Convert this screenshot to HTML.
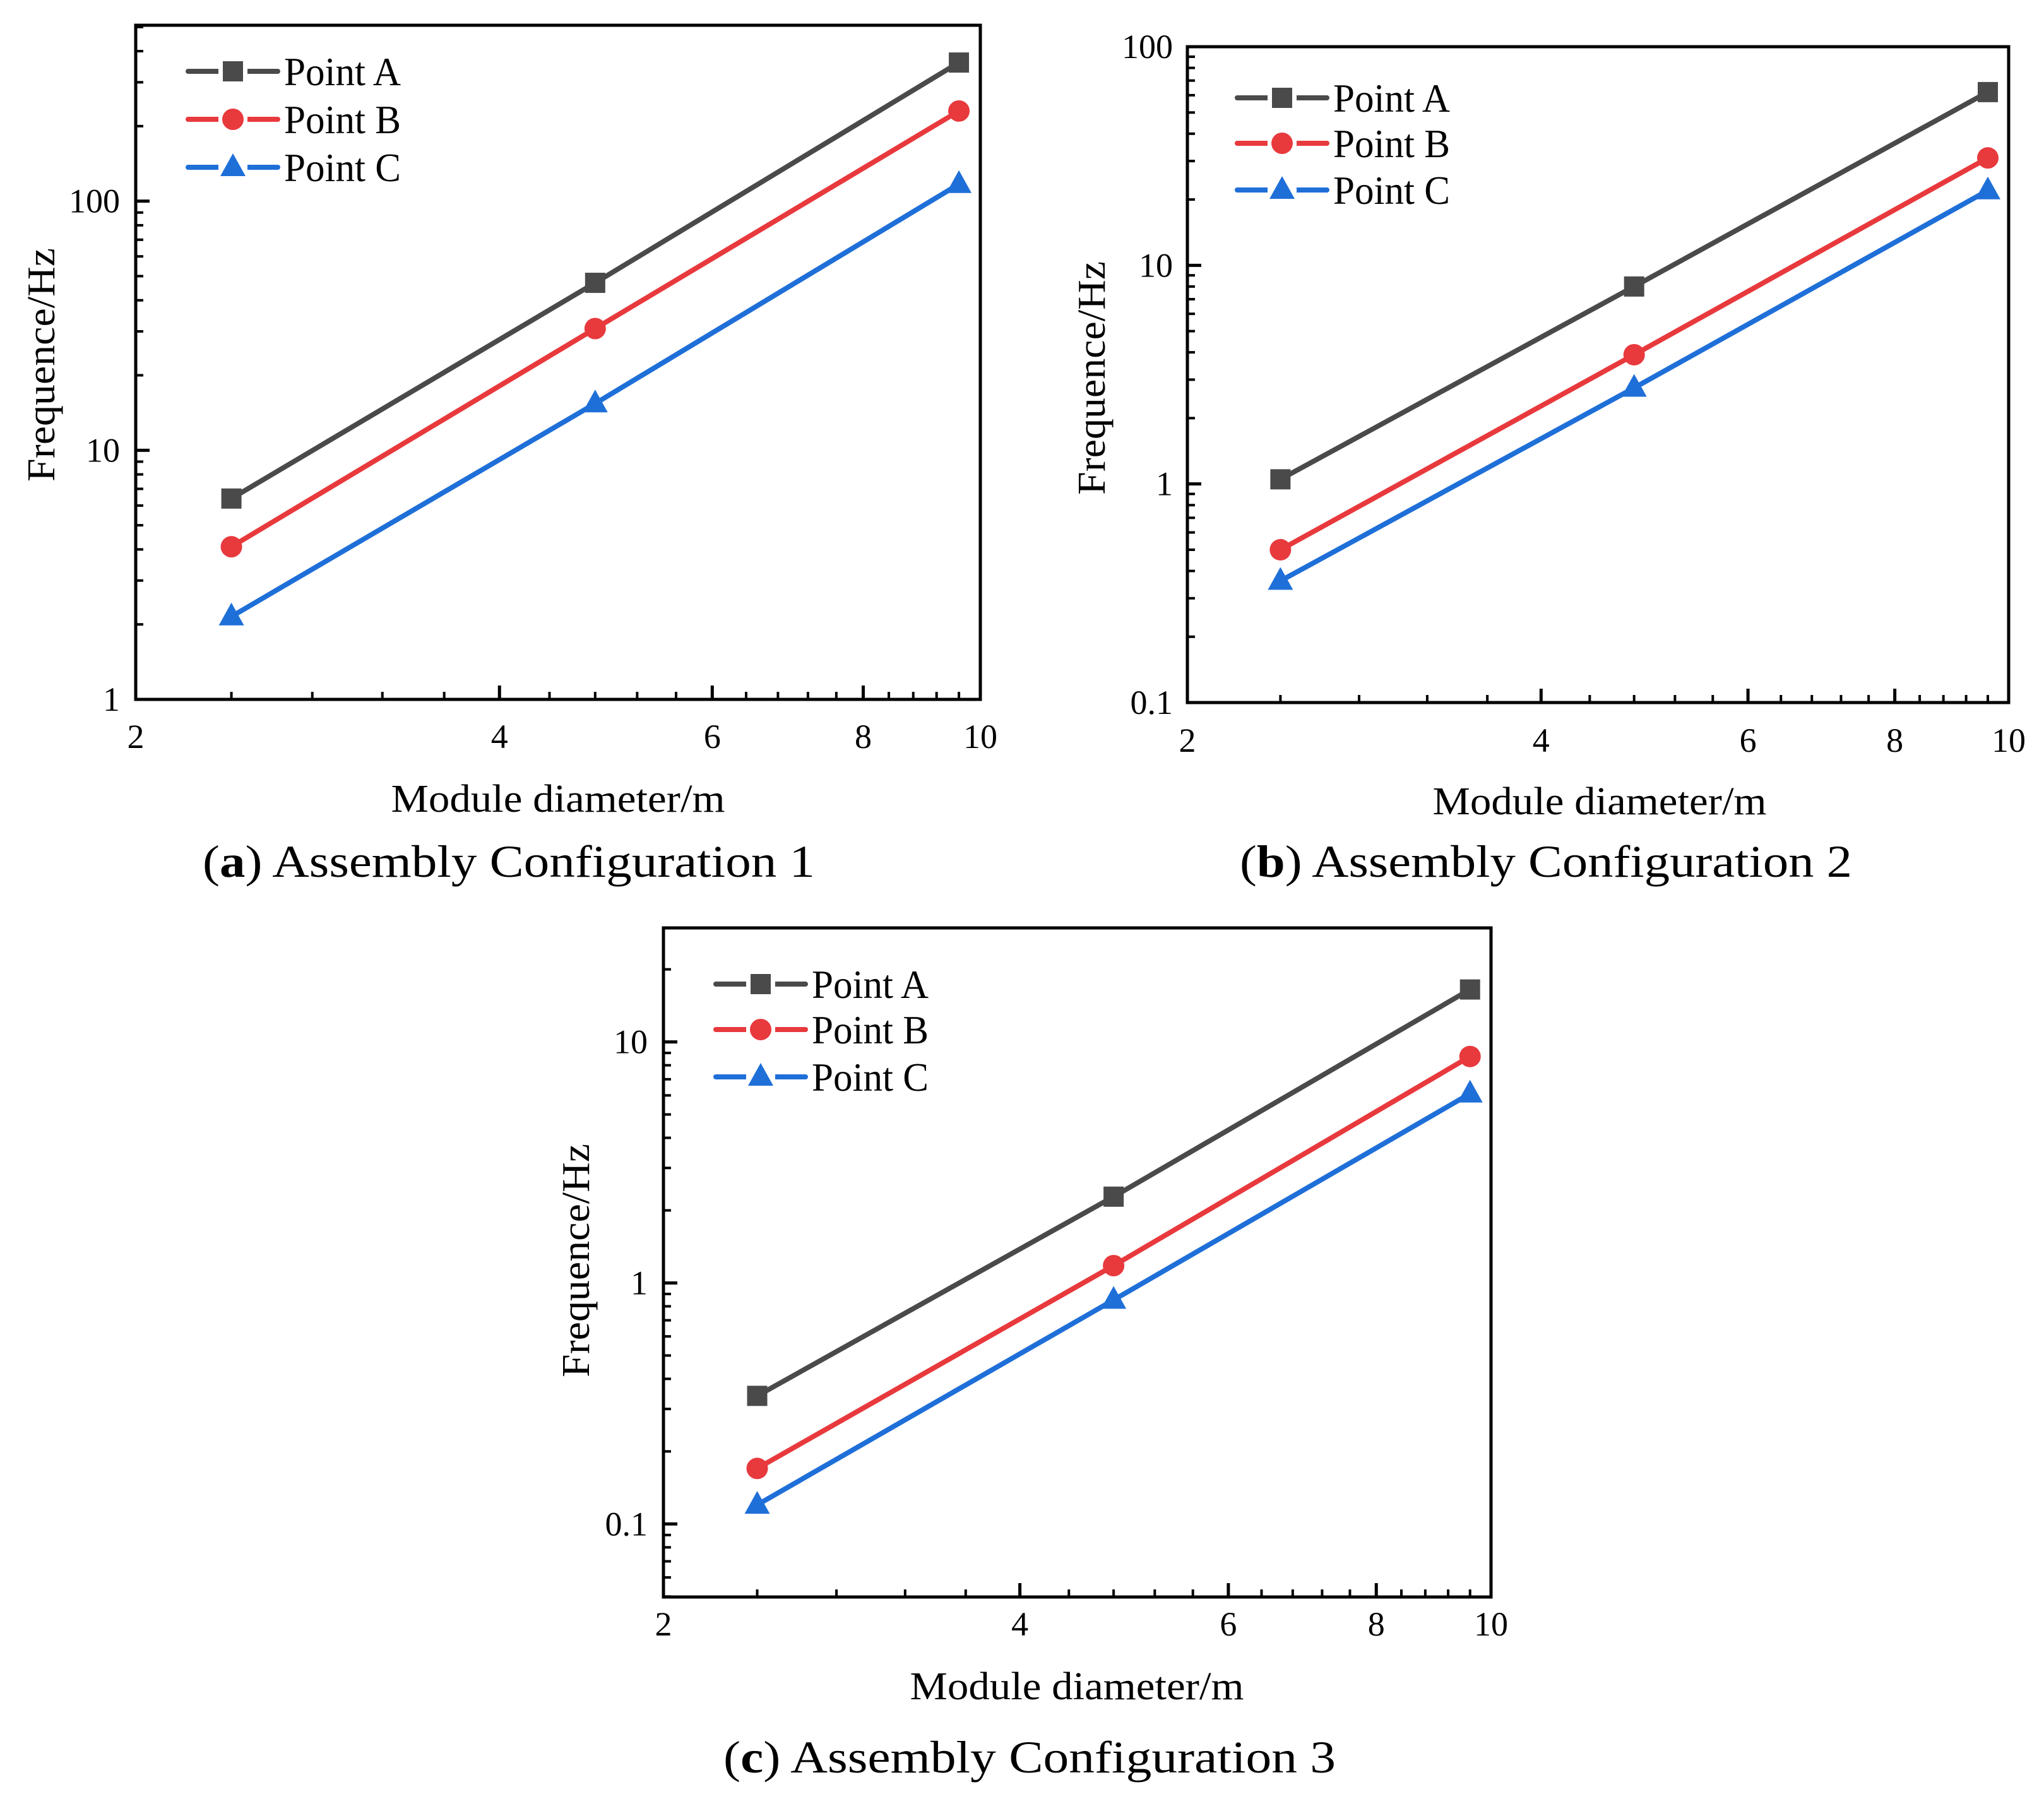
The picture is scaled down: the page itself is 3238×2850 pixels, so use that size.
<!DOCTYPE html>
<html><head><meta charset="utf-8"><style>
html,body{margin:0;padding:0;background:#fff;}
svg{display:block;}
svg text{font-family:"Liberation Serif","DejaVu Serif",serif;}
</style></head><body>
<svg id="fig" width="3238" height="2850" viewBox="0 0 3238 2850" xmlns="http://www.w3.org/2000/svg"></svg>
<script>
const xValues = [2.4, 4.8, 9.6];
const seriesNames = ["Point A", "Point B", "Point C"];
const aValsA = [6.4, 47, 360];
const aValsB = [4.1, 30.8, 230];
const aValsC = [2.15, 15.4, 117];
const bValsA = [1.05, 8.0, 62];
const bValsB = [0.50, 3.9, 31];
const bValsC = [0.36, 2.75, 22];
const cValsA = [0.34, 2.28, 16.5];
const cValsB = [0.17, 1.18, 8.7];
const cValsC = [0.12, 0.85, 6.1];
const xTickLabels = ["2", "4", "6", "8", "10"];
const xMinor = [2.4,2.8,3.2,3.6,4.4,4.8,5.2,5.6,6.4,6.8,7.2,7.6,8.4,8.8,9.2,9.6];
const aYTicks = ["1", "10", "100"];
const bYTicks = ["0.1", "1", "10", "100"];
const cYTicks = ["0.1", "1", "10"];

const NS = "http://www.w3.org/2000/svg";
const svg = document.getElementById("fig");
const colors = ["#4a4a4a", "#e8393d", "#1f6fd8"];
const FF = '"Liberation Serif", serif';
function mk(tag, attrs, parent){const e=document.createElementNS(NS,tag);for(const k in attrs)e.setAttribute(k,attrs[k]);(parent||svg).appendChild(e);return e;}

const panels = [
 {id:"a", L:215, R:1553, T:40, B:1108, yMin:0, yMax:2.706, yt:aYTicks, data:[aValsA,aValsB,aValsC],
  tickY:1167, ytx:190, titleX:884, titleY:1266, yTitleX:66, yTitleY:578, capX:806, capY:1365, capLbl:"a", capNum:"1",
  legX:298, legY:[113,189,265]},
 {id:"b", L:1881, R:3182, T:74, B:1113, yMin:-1, yMax:2, yt:bYTicks, data:[bValsA,bValsB,bValsC],
  tickY:1173, ytx:1858, titleX:2534, titleY:1270, yTitleX:1730, yTitleY:599, capX:2449, capY:1365, capLbl:"b", capNum:"2",
  legX:1960, legY:[155,227,301]},
 {id:"c", L:1051, R:2362, T:1470, B:2530, yMin:-1.303, yMax:1.473, yt:cYTicks, data:[cValsA,cValsB,cValsC],
  tickY:2573, ytx:1026, titleX:1706, titleY:2672, yTitleX:913, yTitleY:1997, capX:1631, capY:2784, capLbl:"c", capNum:"3",
  legX:1134, legY:[1559,1631,1706]}
];

function marker(g, k, x, y, name){
  let m;
  if(k===0) m=mk("rect",{x:x-16,y:y-16,width:32,height:32,fill:colors[0]},g);
  else if(k===1) m=mk("circle",{cx:x,cy:y,r:17,fill:colors[1]},g);
  else m=mk("polygon",{points:`${x-20},${y+14} ${x+20},${y+14} ${x},${y-22}`,fill:colors[2]},g);
  
  
  return m;
}

panels.forEach(p=>{
  const g = mk("g",{});
  
  
  const xs = v => p.L + (Math.log10(v)-Math.log10(2))/(1-Math.log10(2))*(p.R-p.L);
  const ys = v => p.B - (Math.log10(v)-p.yMin)/(p.yMax-p.yMin)*(p.B-p.T);
  xTickLabels.forEach(t=>{
    const v=+t, x=xs(v);
    mk("line",{x1:x,x2:x,y1:p.B,y2:p.B-22,stroke:"#000","stroke-width":5},g);
    const tx=mk("text",{x:x,y:p.tickY+18,"font-size":54,"text-anchor":"middle","font-family":FF},g);
    tx.textContent=t;
    
    
  });
  xMinor.forEach(v=>{const x=xs(v);mk("line",{x1:x,x2:x,y1:p.B,y2:p.B-12,stroke:"#000","stroke-width":4},g);});
  for(let d=Math.floor(p.yMin); d<=Math.ceil(p.yMax); d++){
    for(let m=1;m<10;m++){
      const lv=d+Math.log10(m);
      if(lv<p.yMin-1e-6||lv>p.yMax+1e-6) continue;
      const y=ys(Math.pow(10,lv));
      mk("line",{x1:p.L,x2:p.L+(m===1?22:12),y1:y,y2:y,stroke:"#000","stroke-width":m===1?5:4},g);
    }
  }
  p.yt.forEach(t=>{
    const y=ys(+t);
    const tx=mk("text",{x:p.ytx,y:y+18,"font-size":54,"text-anchor":"end","font-family":FF},g);
    tx.textContent=t;
    
    
  });
  p.data.forEach((vals,k)=>{
    const pts = xValues.map((x,i)=>[xs(x),ys(vals[i])]);
    const pl=mk("polyline",{points:pts.map(q=>q.join(",")).join(" "),fill:"none",stroke:colors[k],"stroke-width":8,"stroke-linecap":"round"},g);
    
    
    pts.forEach(q=>marker(g,k,q[0],q[1],'marker-point-'+['a','b','c'][k]));
  });
  const fr=mk("rect",{x:p.L,y:p.T,width:p.R-p.L,height:p.B-p.T,fill:"none",stroke:"#000","stroke-width":5},g);
  
  
  seriesNames.forEach((n,k)=>{
    const lg=mk("g",{},g);
    
    
    const y=p.legY[k];
    mk("line",{x1:p.legX,x2:p.legX+142,y1:y,y2:y,stroke:colors[k],"stroke-width":8,"stroke-linecap":"round"},lg);
    mk("rect",{x:p.legX+48,y:y-22,width:46,height:44,fill:"#fff"},lg);
    marker(lg,k,p.legX+71,y,'legend-marker');
    const tx=mk("text",{x:p.legX+152,y:y+22,"font-size":64,"font-family":FF,textLength:185,lengthAdjust:"spacingAndGlyphs"},lg);
    tx.textContent=n;
  });
  const xt=mk("text",{x:p.titleX,y:p.titleY+20,"font-size":62,"text-anchor":"middle","font-family":FF,textLength:529,lengthAdjust:"spacingAndGlyphs"},g);
  xt.textContent="Module diameter/m";
  
  
  const yt=mk("text",{x:0,y:0,"font-size":62,"text-anchor":"middle","font-family":FF,transform:`translate(${p.yTitleX+20},${p.yTitleY}) rotate(-90)`,textLength:370,lengthAdjust:"spacingAndGlyphs"},g);
  yt.textContent="Frequence/Hz";
  
  
  const cp=mk("text",{x:p.capX,y:p.capY+24,"font-size":72,"text-anchor":"middle","font-family":FF,textLength:970,lengthAdjust:"spacingAndGlyphs"},g);
  cp.innerHTML=`(<tspan font-weight="bold">${p.capLbl}</tspan>) Assembly Configuration ${p.capNum}`;
  
  
});
</script>
</body></html>
